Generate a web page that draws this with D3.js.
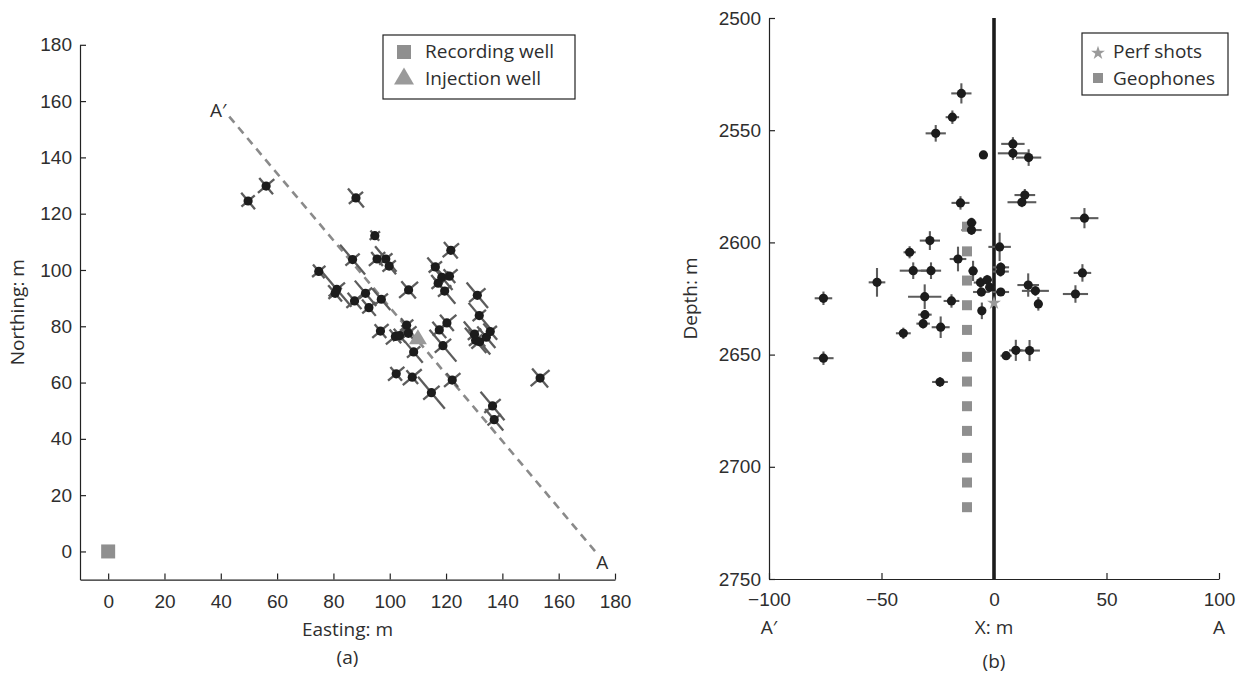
<!DOCTYPE html>
<html>
<head>
<meta charset="utf-8">
<script src="https://cdn.jsdelivr.net/npm/d3@7"></script>
<style>
  body { margin: 0; background: #fff; }
  svg { display: block; font-family: 'Open Sans', 'Noto Sans', sans-serif; }
  .axis text { font-size: 19px; fill: #2e2e2e; }
  .axis path, .axis line { stroke: #222; stroke-width: 1.2; }
  .lbl { font-size: 19px; fill: #2e2e2e; }
</style>
</head>
<body>
<svg id="chart" width="1245" height="674"></svg>
<script>
// ---- panel (a): map view, metres ----
const eastings = [49.7, 56.1, 88.0, 94.7, 86.8, 95.5, 98.6, 99.8, 121.7, 116.2, 118.5, 121.2,
  117.2, 119.5, 74.8, 81.2, 80.6, 87.5, 91.4, 92.6, 97.0, 106.7, 131.1, 131.8, 120.3, 117.6,
  106.0, 96.7, 102.0, 103.5, 106.6, 108.5, 118.9, 130.1, 130.5, 131.9, 134.3, 135.7, 102.3,
  108.0, 122.2, 114.8, 153.4, 136.5, 137.1];
const northings = [124.5, 129.8, 125.6, 112.2, 103.7, 103.9, 103.9, 101.4, 107.0, 101.1, 97.4, 97.8,
  95.3, 92.5, 99.5, 93.1, 91.7, 89.0, 91.7, 86.6, 89.6, 92.9, 91.0, 83.8, 81.2, 78.7,
  80.4, 78.3, 76.4, 76.7, 77.5, 70.9, 73.1, 77.2, 75.0, 74.5, 76.1, 78.1, 63.1,
  61.9, 60.9, 56.4, 61.6, 51.7, 46.8];
// half-lengths of the error cross, along A'-A and across it
const errAlong = [3.8, 3.8, 4.4, 2.4, 6.9, 3.2, 5.9, 3.8, 3.8, 4.4, 5.9, 3.2,
  3.8, 5.9, 3.2, 8.1, 3.8, 3.8, 5.9, 3.8, 5.0, 4.0, 5.9, 5.9, 3.8, 3.8,
  3.2, 3.2, 3.2, 3.2, 3.8, 5.0, 7.4, 5.9, 5.9, 5.9, 5.0, 3.8, 3.2,
  3.2, 3.2, 7.4, 4.4, 6.6, 5.0];
const errAcross = [3.1, 3.8, 3.3, 2.4, 3.3, 3.8, 3.1, 3.1, 3.8, 3.1, 3.1, 3.8,
  3.1, 3.1, 3.1, 3.8, 3.1, 3.8, 3.1, 3.1, 3.1, 4.4, 3.8, 3.1, 4.4, 3.1,
  3.1, 3.8, 4.4, 3.1, 3.8, 3.1, 3.8, 3.1, 3.1, 3.8, 3.1, 3.1, 3.8,
  4.4, 3.8, 3.8, 4.4, 3.8, 3.1];
const recordingWell = [0, 0];
const injectionWell = [110, 76.3];
const sectionStart = [43, 154.5];   // A'
const sectionEnd = [173, 0];        // A
const ticksA = d3.range(0, 181, 20);

// ---- panel (b): section view ----
const sectionX = [-14.5, -18.5, -25.9, 8.4, 8.4, 15.4, -4.7, 13.7, 12.4, -14.9, -10.0, -10.0,
  -28.5, -37.5, -16.0, 2.5, -35.9, -28.0, -9.3, 3.0, 2.9, -52.0, -75.8, -30.8, -18.9,
  -6.0, -3.0, -5.6, -1.9, 3.0, 15.2, 18.4, 19.7, 36.2, 39.3, 40.2, -5.4, -30.7, -31.5,
  -23.7, -40.3, -75.8, 5.4, 9.7, 15.8, -24.0];
const depths = [2533.6, 2544.2, 2551.4, 2556.1, 2560.3, 2562.2, 2561.0, 2578.9, 2582.1, 2582.4, 2591.2, 2594.5,
  2599.2, 2604.4, 2607.4, 2602.0, 2612.6, 2612.6, 2612.7, 2611.1, 2613.0, 2617.8, 2624.9, 2624.2, 2626.1,
  2617.9, 2616.7, 2622.1, 2620.0, 2622.1, 2619.0, 2621.6, 2627.4, 2623.0, 2613.6, 2589.2, 2630.5, 2632.2, 2636.2,
  2637.8, 2640.5, 2651.6, 2650.5, 2648.1, 2648.2, 2662.2];
const errX = [4.5, 3, 4.5, 5.2, 6.7, 5.6, 1.8, 4.6, 6.4, 4, 2.2, 4.5,
  4.5, 2.7, 3.7, 5, 6, 4.5, 2, 3.7, 3.7, 3.7, 3.9, 7.4, 3.5,
  3, 2.2, 3.7, 2, 3.7, 4.8, 6, 1.8, 5.6, 3.9, 6.2, 1.8, 3, 3,
  4, 3.3, 4.5, 2.5, 3, 4.6, 3.5];
const errZ = [4.5, 3, 3.7, 3, 3, 3.7, 1.8, 2.7, 2.2, 3, 2.2, 2.2,
  4.2, 2.7, 5.5, 6.3, 3.7, 3.7, 4.5, 2.2, 2.2, 6.4, 3, 5.5, 3,
  2.5, 2.2, 2, 2, 1.8, 5.2, 2.2, 3, 3.9, 3.9, 4.5, 3.7, 1.8, 2.2,
  4.8, 2.5, 3, 1.8, 4.7, 4.7, 2.2];
const geophoneX = -12;
const geophoneDepths = [2593, 2604, 2617, 2628, 2639, 2651, 2662, 2673, 2684, 2696, 2707, 2718];
const perfShot = [0, 2627];
const ticksBx = [-100, -50, 0, 50, 100];
const ticksBy = d3.range(2500, 2751, 50);

const svg = d3.select('#chart');
const ink = '#1c1c1c';
const barColor = '#5c5c5c';
const grey = '#8f8f8f';
const dotR = 4.6;
const minus = d => (d < 0 ? '\u2212' + Math.abs(d) : String(d));

// ================= panel (a) =================
const xA = d3.scaleLinear().domain([-10, 180]).range([80, 615]);
const yA = d3.scaleLinear().domain([-10, 180]).range([579.6, 44.8]);

svg.append('g')
  .attr('class', 'axis')
  .attr('transform', `translate(0, ${yA(-10)})`)
  .call(d3.axisBottom(xA).tickValues(ticksA).tickSizeInner(-6).tickSizeOuter(0).tickPadding(15));

svg.append('g')
  .attr('class', 'axis')
  .attr('transform', `translate(${xA(-10)}, 0)`)
  .call(d3.axisLeft(yA).tickValues(ticksA).tickSizeInner(-6).tickSizeOuter(0).tickPadding(8));

svg.append('text').attr('class', 'lbl')
  .attr('x', (xA.range()[0] + xA.range()[1]) / 2).attr('y', 636)
  .attr('text-anchor', 'middle').text('Easting: m');
svg.append('text').attr('class', 'lbl')
  .attr('x', (xA.range()[0] + xA.range()[1]) / 2).attr('y', 664)
  .attr('text-anchor', 'middle').text('(a)');
svg.append('text').attr('class', 'lbl')
  .attr('transform', `translate(24, ${(yA.range()[0] + yA.range()[1]) / 2}) rotate(-90)`)
  .attr('text-anchor', 'middle').text('Northing: m');

// section line A'-A
svg.append('line')
  .attr('x1', xA(sectionStart[0])).attr('y1', yA(sectionStart[1]))
  .attr('x2', xA(sectionEnd[0])).attr('y2', yA(sectionEnd[1]))
  .attr('stroke', '#8a8a8a').attr('stroke-width', 2.6).attr('stroke-dasharray', '8,6');
svg.append('text').attr('class', 'lbl')
  .attr('x', xA(sectionStart[0]) - 11).attr('y', yA(sectionStart[1]))
  .attr('text-anchor', 'middle').text('A\u2032');
svg.append('text').attr('class', 'lbl')
  .attr('x', xA(sectionEnd[0]) + 7).attr('y', yA(sectionEnd[1]) + 18)
  .attr('text-anchor', 'middle').text('A');

// rotated error crosses
const dirX = sectionEnd[0] - sectionStart[0];
const dirY = sectionEnd[1] - sectionStart[1];
const len = Math.hypot(dirX, dirY);
const u = [dirX / len, dirY / len];
const v = [-u[1], u[0]];
const eventsA = eastings.map((e, i) => ({ e, n: northings[i], a: errAlong[i], c: errAcross[i] }));

const gA = svg.append('g');
const arms = [];
eventsA.forEach(d => {
  arms.push([d.e - d.a * u[0], d.n - d.a * u[1], d.e + d.a * u[0], d.n + d.a * u[1]]);
  arms.push([d.e - d.c * v[0], d.n - d.c * v[1], d.e + d.c * v[0], d.n + d.c * v[1]]);
});
gA.selectAll('line.arm')
  .data(arms)
  .enter().append('line')
    .attr('class', 'arm')
    .attr('x1', d => xA(d[0])).attr('y1', d => yA(d[1]))
    .attr('x2', d => xA(d[2])).attr('y2', d => yA(d[3]))
    .attr('stroke', barColor).attr('stroke-width', 2.3);
gA.selectAll('circle')
  .data(eventsA)
  .enter().append('circle')
    .attr('cx', d => xA(d.e)).attr('cy', d => yA(d.n))
    .attr('r', dotR).attr('fill', ink);

svg.append('rect')
  .attr('x', xA(recordingWell[0]) - 7).attr('y', yA(recordingWell[1]) - 7)
  .attr('width', 14).attr('height', 14).attr('fill', grey);

const tri = (w, h) => `M0,${-h / 2}L${w / 2},${h / 2}L${-w / 2},${h / 2}Z`;
svg.append('path')
  .attr('d', tri(18, 15))
  .attr('transform', `translate(${xA(injectionWell[0])}, ${yA(injectionWell[1])})`)
  .attr('fill', '#9a9a9a');

// legend (a)
const legA = svg.append('g').attr('transform', 'translate(383, 35)');
legA.append('rect').attr('width', 192).attr('height', 64)
  .attr('fill', '#fff').attr('stroke', '#222').attr('stroke-width', 1.2);
legA.append('rect').attr('x', 14).attr('y', 10).attr('width', 14).attr('height', 14).attr('fill', grey);
legA.append('path').attr('d', tri(20, 17)).attr('transform', 'translate(21, 41)').attr('fill', '#9a9a9a');
legA.append('text').attr('class', 'lbl').attr('x', 42).attr('y', 23).text('Recording well');
legA.append('text').attr('class', 'lbl').attr('x', 42).attr('y', 50).text('Injection well');

// ================= panel (b) =================
const xB = d3.scaleLinear().domain([-100, 100]).range([769, 1219]);
const yB = d3.scaleLinear().domain([2500, 2750]).range([18, 579]);

svg.append('g')
  .attr('class', 'axis')
  .attr('transform', `translate(0, ${yB(2750)})`)
  .call(d3.axisBottom(xB).tickValues(ticksBx).tickFormat(minus)
    .tickSizeInner(-6).tickSizeOuter(0).tickPadding(14));

svg.append('g')
  .attr('class', 'axis')
  .attr('transform', `translate(${xB(-100)}, 0)`)
  .call(d3.axisLeft(yB).tickValues(ticksBy).tickFormat(d3.format('d'))
    .tickSizeInner(-6).tickSizeOuter(0).tickPadding(8));

svg.append('text').attr('class', 'lbl')
  .attr('x', xB(0)).attr('y', 634).attr('text-anchor', 'middle').text('X: m');
svg.append('text').attr('class', 'lbl')
  .attr('x', xB(-100)).attr('y', 634).attr('text-anchor', 'middle').text('A\u2032');
svg.append('text').attr('class', 'lbl')
  .attr('x', xB(100)).attr('y', 634).attr('text-anchor', 'middle').text('A');
svg.append('text').attr('class', 'lbl')
  .attr('x', xB(0)).attr('y', 668).attr('text-anchor', 'middle').text('(b)');
svg.append('text').attr('class', 'lbl')
  .attr('transform', `translate(697, ${(yB.range()[0] + yB.range()[1]) / 2}) rotate(-90)`)
  .attr('text-anchor', 'middle').text('Depth: m');

// injection well trace at X = 0
svg.append('line')
  .attr('x1', xB(0)).attr('x2', xB(0))
  .attr('y1', yB(2500)).attr('y2', yB(2750))
  .attr('stroke', ink).attr('stroke-width', 3.6);

const eventsB = sectionX.map((x, i) => ({ x, z: depths[i], ex: errX[i], ez: errZ[i] }));
const gB = svg.append('g');
gB.selectAll('line.h')
  .data(eventsB)
  .enter().append('line')
    .attr('class', 'h')
    .attr('x1', d => xB(d.x - d.ex)).attr('x2', d => xB(d.x + d.ex))
    .attr('y1', d => yB(d.z)).attr('y2', d => yB(d.z))
    .attr('stroke', barColor).attr('stroke-width', 2.1);
gB.selectAll('line.v')
  .data(eventsB)
  .enter().append('line')
    .attr('class', 'v')
    .attr('x1', d => xB(d.x)).attr('x2', d => xB(d.x))
    .attr('y1', d => yB(d.z - d.ez)).attr('y2', d => yB(d.z + d.ez))
    .attr('stroke', barColor).attr('stroke-width', 2.1);

gB.selectAll('rect.geo')
  .data(geophoneDepths)
  .enter().append('rect')
    .attr('class', 'geo')
    .attr('x', xB(geophoneX) - 5).attr('y', d => yB(d) - 5)
    .attr('width', 10).attr('height', 10).attr('fill', grey);

gB.selectAll('circle')
  .data(eventsB)
  .enter().append('circle')
    .attr('cx', d => xB(d.x)).attr('cy', d => yB(d.z))
    .attr('r', dotR).attr('fill', ink);

const star = d3.symbol(d3.symbolStar).size(60);
svg.append('path')
  .attr('d', star())
  .attr('transform', `translate(${xB(perfShot[0])}, ${yB(perfShot[1])})`)
  .attr('fill', '#9a9a9a');

// legend (b)
const legB = svg.append('g').attr('transform', 'translate(1082, 33)');
legB.append('rect').attr('width', 146).attr('height', 62)
  .attr('fill', '#fff').attr('stroke', '#222').attr('stroke-width', 1.2);
legB.append('path').attr('d', star()).attr('transform', 'translate(16, 20)').attr('fill', '#9a9a9a');
legB.append('rect').attr('x', 11).attr('y', 40).attr('width', 10).attr('height', 10).attr('fill', grey);
legB.append('text').attr('class', 'lbl').attr('x', 31).attr('y', 25).text('Perf shots');
legB.append('text').attr('class', 'lbl').attr('x', 31).attr('y', 52).text('Geophones');
</script>
</body>
</html>
